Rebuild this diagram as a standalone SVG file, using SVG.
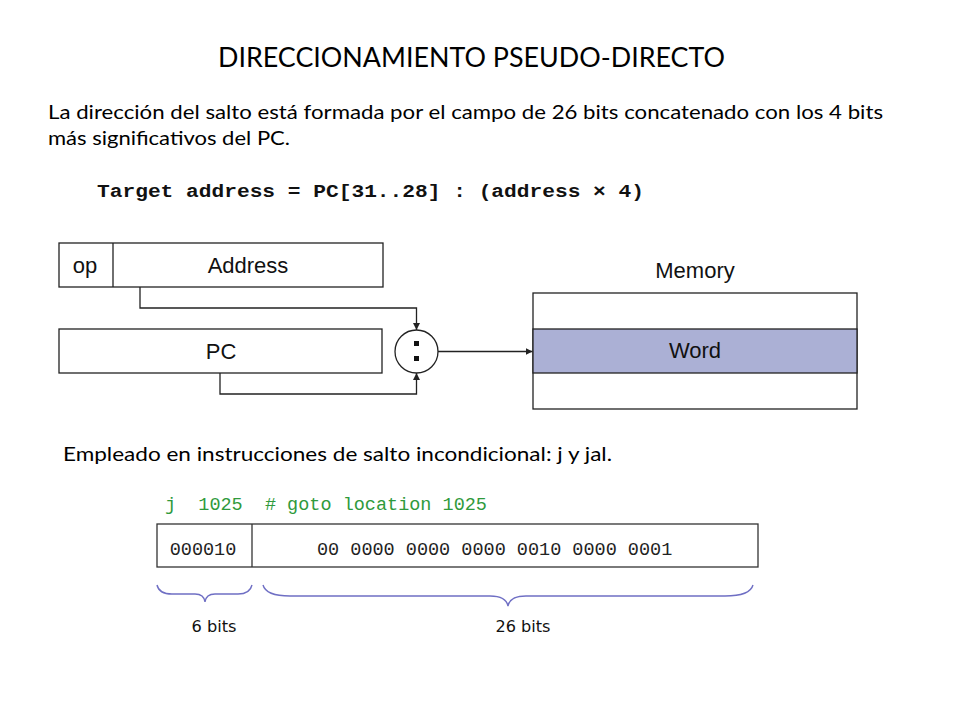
<svg xmlns="http://www.w3.org/2000/svg" width="960" height="720" viewBox="0 0 960 720">
<defs>
<style>
.calibri{font-family:Lato,"Open Sans","Liberation Sans",sans-serif;fill:#000}
.helv{font-family:"Liberation Sans",Arial,sans-serif;font-size:22px;fill:#111;text-anchor:middle}
.mono{font-family:"Liberation Mono","Courier New",monospace}
.box{fill:#fff;stroke:#222;stroke-width:1.3}
.wire{fill:none;stroke:#222;stroke-width:1.3}
.brace{fill:none;stroke:#6f6fc4;stroke-width:1.4}
.comic{font-family:"DejaVu Sans",sans-serif;font-size:16px;fill:#111;text-anchor:middle}
</style>
<marker id="ah" viewBox="0 0 10 10" refX="10" refY="5" markerWidth="7" markerHeight="7" markerUnits="userSpaceOnUse" orient="auto">
<path d="M0,0 L10,5 L0,10 z" fill="#222"/>
</marker>
</defs>
<rect width="960" height="720" fill="#fff"/>

<g id="title">
<text class="calibri" x="218" y="67" font-size="27" textLength="507" lengthAdjust="spacingAndGlyphs">DIRECCIONAMIENTO PSEUDO-DIRECTO</text>
</g>
<g id="description">
<text class="calibri" x="48" y="119" font-size="19" textLength="835" lengthAdjust="spacingAndGlyphs">La dirección del salto está formada por el campo de 26 bits concatenado con los 4 bits</text>
<text class="calibri" x="48" y="145" font-size="19" textLength="242" lengthAdjust="spacingAndGlyphs">más significativos del PC.</text>
</g>
<g id="formula">
<text class="mono" x="97" y="197" font-size="19" font-weight="bold" fill="#111" textLength="547" lengthAdjust="spacingAndGlyphs">Target address = PC[31..28] : (address × 4)</text>
</g>

<g id="instruction">
<rect class="box" x="59" y="243" width="324" height="44"/>
<line class="wire" x1="113" y1="243" x2="113" y2="287"/>
<text class="helv" x="85" y="273">op</text>
<text class="helv" x="248" y="273">Address</text>
</g>
<g id="pc">
<rect class="box" x="59" y="329" width="323" height="44"/>
<text class="helv" x="221" y="359">PC</text>
</g>
<g id="concat">
<circle class="box" cx="416.5" cy="351.5" r="21.5"/>
<rect x="414" y="341" width="5" height="5" fill="#111"/>
<rect x="414" y="356" width="5" height="5" fill="#111"/>
</g>
<g id="memory">
<text class="helv" x="695" y="278">Memory</text>
<rect class="box" x="533" y="293" width="324" height="116"/>
<rect x="533" y="329" width="324" height="44" fill="#abb0d5" stroke="#222" stroke-width="1.3"/>
<text class="helv" x="695" y="358">Word</text>
</g>

<g id="connectors">
<polyline class="wire" points="140,287 140,308 416.5,308 416.5,330" marker-end="url(#ah)"/>
<polyline class="wire" points="220,373 220,394 416.5,394 416.5,373" marker-end="url(#ah)"/>
<line class="wire" x1="438" y1="351.5" x2="532.5" y2="351.5" marker-end="url(#ah)"/>
</g>

<g id="usage">
<text class="calibri" x="63" y="461" font-size="19" textLength="549" lengthAdjust="spacingAndGlyphs">Empleado en instrucciones de salto incondicional: j y jal.</text>
</g>

<g id="code">
<text class="mono" x="165" y="510" font-size="18.5" fill="#2f9a3c" xml:space="preserve">j  1025  # goto location 1025</text>
</g>
<g id="encoding">
<rect x="157" y="524" width="601" height="43" fill="#fff" stroke="#333" stroke-width="1.3"/>
<line x1="252" y1="524" x2="252" y2="567" stroke="#333" stroke-width="1.3"/>
<text class="mono" x="203" y="555" font-size="18.5" fill="#222" text-anchor="middle">000010</text>
<text class="mono" x="317" y="555" font-size="18.5" fill="#222" xml:space="preserve">00 0000 0000 0000 0010 0000 0001</text>
</g>
<g id="braces">
<path class="brace" d="M157,585 Q159,594 172,594 L195,594 Q204,594 205,602 Q206,594 215,594 L238,594 Q250,594 252,585"/>
<path class="brace" d="M263,585 Q266,596 290,596 L490,596 Q506,596 508,606 Q510,596 526,596 L725,596 Q750,596 753,585"/>
<text class="comic" x="214" y="632" textLength="45" lengthAdjust="spacingAndGlyphs">6 bits</text>
<text class="comic" x="523" y="632" textLength="55" lengthAdjust="spacingAndGlyphs">26 bits</text>
</g>
</svg>
